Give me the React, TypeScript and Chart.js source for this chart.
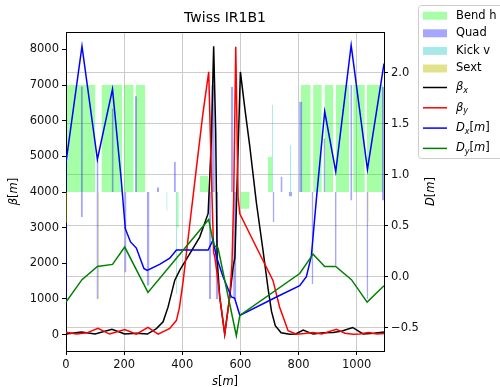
import React, { useEffect, useRef } from 'react';
import { Chart, registerables } from 'chart.js';

Chart.register(...registerables);
Chart.defaults.font.family = '"DejaVu Sans"';

// ---------- tick values ----------
const xTicks = [0, 200, 400, 600, 800, 1000];
const betaTicks = [0, 1000, 2000, 3000, 4000, 5000, 6000, 7000, 8000];
const dTicks = [-0.5, 0, 0.5, 1, 1.5, 2];

const titleText = 'Twiss IR1B1';

// ---------- optics (s [m], value) ----------
const betaXS = [0, 53, 100, 158, 202, 242, 280, 311, 334, 351, 374, 391, 426, 460, 489, 500, 508, 515, 520, 529, 546, 563, 575, 581, 600, 616, 632, 655, 678, 695, 707, 720, 740, 770, 790, 816, 850, 885, 919, 950, 986, 1022, 1060, 1094];
const betaXV = [20, 70, 15, 150, 15, 35, 15, 170, 360, 770, 1520, 1800, 2270, 2735, 3400, 5450, 8090, 5700, 2100, 1050, 15, 1050, 1900, 2150, 7370, 6300, 5300, 3700, 2350, 1300, 650, 250, 50, 10, 20, 130, 15, 50, 60, 100, 200, 20, 40, 70];

const betaYS = [0, 36, 72, 110, 150, 202, 242, 282, 317, 357, 380, 390, 403, 426, 449, 471, 491, 500, 508, 512, 520, 529, 546, 563, 571, 577, 584, 592, 598, 655, 712, 735, 764, 793, 820, 850, 880, 930, 960, 988, 1010, 1040, 1070, 1094];
const betaYV = [65, 15, 50, 175, 15, 145, 10, 200, 10, 175, 400, 750, 1500, 3110, 4700, 6200, 7375, 4520, 2300, 2170, 1700, 1050, 15, 1050, 1990, 3860, 8075, 3860, 3390, 2450, 1520, 770, 110, 10, 30, 60, 20, 150, 40, 10, 20, 60, 20, 30];

const dxS = [0, 55, 108, 160, 190, 204, 222, 242, 268, 279, 322, 357, 380, 489, 506, 517, 540, 569, 580, 598, 724, 804, 827, 844, 862, 890, 928, 981, 1037, 1094];
const dxV = [1.12, 2.26, 1.15, 1.84, 0.95, 0.47, 0.34, 0.28, 0.08, 0.06, 0.12, 0.18, 0.26, 0.26, 0.36, 0.2, 0.0, -0.2, -0.21, -0.38, -0.2, -0.09, 0.0, 0.2, 0.78, 1.62, 1.03, 2.27, 1.05, 2.09];

const dyS = [0, 55, 108, 160, 202, 282, 491, 508, 523, 586, 598, 804, 850, 890, 928, 982, 1036, 1094];
const dyV = [-0.25, -0.03, 0.10, 0.12, 0.29, -0.155, 0.56, 0.31, 0.28, -0.58, -0.38, 0.03, 0.22, 0.10, 0.10, -0.03, -0.25, -0.09];

// ---------- lattice elements (start s, end s, low, high) ----------
const bendS0 = [3, 122, 200, 240, 381, 461, 600, 695, 808, 850, 890, 928, 988, 1035];
const bendS1 = [101, 193, 233, 273, 388, 489, 632, 709, 842, 880, 920, 975, 1028, 1091];
const bendLo = [4000, 4000, 4000, 4000, 3000, 4000, 3530, 4000, 4000, 4000, 4000, 4000, 4000, 4000];
const bendHi = [7000, 7000, 7000, 7000, 4000, 4450, 4000, 4985, 7000, 7000, 7000, 7000, 7000, 7000];

const quadS0 = [0, 0, 51, 105, 157, 201, 237, 278, 313, 371, 492, 500, 515, 567, 575, 711, 738, 767, 802, 845, 886, 925, 978, 1034, 1087];
const quadS1 = [4, 4, 58, 112, 164, 208, 244, 287, 320, 378, 499, 512, 523, 575, 586, 717, 745, 778, 813, 851, 892, 931, 985, 1040, 1094];
const quadLo = [870, 4000, 3300, 1000, 4000, 1750, 4000, 1380, 4000, 4000, 1000, 4000, 1000, 4000, 1000, 3160, 4000, 3880, 4000, 1420, 4000, 1940, 3770, 1000, 3770];
const quadHi = [3130, 4900, 6960, 4900, 6340, 4000, 6690, 4000, 4130, 4840, 4000, 7000, 4000, 6950, 4000, 4000, 4430, 4000, 6530, 4000, 5500, 4000, 7000, 4000, 6950];

const kickS0 = [345, 378, 708, 770];
const kickS1 = [349, 382, 712, 774];
const kickLo = [3490, 1140, 4000, 4000];
const kickHi = [4000, 4000, 6440, 5310];

const sextS0 = [0, 109, 1037];
const sextS1 = [4, 113, 1041];
const sextLo = [3130, 1000, 3157];
const sextHi = [4000, 4000, 4000];

// ---------- styles ----------
const BEND_C = 'rgba(0,255,0,0.35)';
const QUAD_C = 'rgba(0,0,255,0.35)';
const KICK_C = 'rgba(0,191,191,0.35)';
const SEXT_C = 'rgba(191,191,0,0.45)';
const BX_C = '#000000';
const BY_C = '#ff0000';
const DX_C = '#0000ff';
const DY_C = '#008000';
const FONT = '"DejaVu Sans"';

type Seg = { t: string; it?: boolean; sub?: boolean };

const xLabel: Seg[] = [{ t: 's', it: true }, { t: '[' }, { t: 'm', it: true }, { t: ']' }];
const yLabel: Seg[] = [{ t: 'β', it: true }, { t: '[' }, { t: 'm', it: true }, { t: ']' }];
const y2Label: Seg[] = [{ t: 'D', it: true }, { t: '[' }, { t: 'm', it: true }, { t: ']' }];

const patchLegend = [
  { label: 'Bend h', color: BEND_C },
  { label: 'Quad', color: QUAD_C },
  { label: 'Kick v', color: KICK_C },
  { label: 'Sext', color: SEXT_C },
];
const lineLegend: { segs: Seg[]; color: string }[] = [
  { segs: [{ t: 'β', it: true }, { t: 'x', it: true, sub: true }], color: BX_C },
  { segs: [{ t: 'β', it: true }, { t: 'y', it: true, sub: true }], color: BY_C },
  { segs: [{ t: 'D', it: true }, { t: 'x', it: true, sub: true }, { t: '[' }, { t: 'm', it: true }, { t: ']' }], color: DX_C },
  { segs: [{ t: 'D', it: true }, { t: 'y', it: true, sub: true }, { t: '[' }, { t: 'm', it: true }, { t: ']' }], color: DY_C },
];

function drawRich(ctx: CanvasRenderingContext2D, segs: Seg[], x: number, y: number, size: number, center: boolean) {
  const fontFor = (s: Seg) => `${s.it ? 'italic ' : ''}${s.sub ? Math.round(size * 0.72) : size}px ${FONT}`;
  let total = 0;
  for (const s of segs) {
    ctx.font = fontFor(s);
    total += ctx.measureText(s.t).width;
  }
  let cx = center ? x - total / 2 : x;
  ctx.textAlign = 'left';
  ctx.textBaseline = 'middle';
  for (const s of segs) {
    ctx.font = fontFor(s);
    ctx.fillText(s.t, cx, s.sub ? y + size * 0.3 : y);
    cx += ctx.measureText(s.t).width;
  }
}

const zip = (xs: number[], ys: number[]) => xs.map((x, i) => ({ x, y: ys[i] }));

function lineSet(label: string, xs: number[], ys: number[], color: string, axis: string) {
  return {
    label,
    data: zip(xs, ys),
    yAxisID: axis,
    borderColor: color,
    backgroundColor: color,
    borderWidth: 1.5,
    pointRadius: 0,
    tension: 0,
    fill: false,
  };
}

function rectSets(label: string, s0: number[], s1: number[], lo: number[], hi: number[], color: string) {
  return s0.map((a, i) => ({
    label,
    data: [
      { x: a, y: hi[i] },
      { x: s1[i], y: hi[i] },
    ],
    yAxisID: 'y',
    borderColor: 'rgba(0,0,0,0)',
    backgroundColor: color,
    borderWidth: 1,
    pointRadius: 0,
    tension: 0,
    fill: { value: lo[i] },
  }));
}

const decorPlugin = {
  id: 'decor',
  afterDraw(chart: any) {
    const ctx: CanvasRenderingContext2D = chart.ctx;
    const ca = chart.chartArea;
    ctx.save();
    // top spine
    ctx.strokeStyle = '#000';
    ctx.lineWidth = 1;
    ctx.beginPath();
    ctx.moveTo(ca.left, Math.round(ca.top) + 0.5);
    ctx.lineTo(ca.right + 1, Math.round(ca.top) + 0.5);
    ctx.stroke();

    ctx.fillStyle = '#000';
    // title
    ctx.font = `14px ${FONT}`;
    ctx.textAlign = 'center';
    ctx.textBaseline = 'middle';
    ctx.fillText(titleText, (ca.left + ca.right) / 2, ca.top - 14);

    // axis labels
    drawRich(ctx, xLabel, (ca.left + ca.right) / 2, ca.bottom + 31, 11.5, true);
    const midY = (ca.top + ca.bottom) / 2;
    ctx.save();
    ctx.translate(ca.left - 52, midY);
    ctx.rotate(-Math.PI / 2);
    drawRich(ctx, yLabel, 0, 0, 11.5, true);
    ctx.restore();
    ctx.save();
    ctx.translate(ca.right + 47, midY);
    ctx.rotate(-Math.PI / 2);
    drawRich(ctx, y2Label, 0, 0, 11.5, true);
    ctx.restore();

    // legend
    const lx = 418.5;
    const ly = 5.5;
    const lw = 110;
    const lh = 153;
    const r = 3;
    ctx.beginPath();
    ctx.moveTo(lx + r, ly);
    ctx.lineTo(lx + lw, ly);
    ctx.lineTo(lx + lw, ly + lh);
    ctx.lineTo(lx + r, ly + lh);
    ctx.arcTo(lx, ly + lh, lx, ly + lh - r, r);
    ctx.lineTo(lx, ly + r);
    ctx.arcTo(lx, ly, lx + r, ly, r);
    ctx.closePath();
    ctx.fillStyle = 'rgba(255,255,255,0.8)';
    ctx.fill();
    ctx.strokeStyle = '#cccccc';
    ctx.stroke();

    const hx = 423;
    const hw = 24;
    const tx = 456;
    patchLegend.forEach((p, i) => {
      const y = 15.7 + i * 17.6;
      ctx.fillStyle = p.color;
      ctx.fillRect(hx, y - 4, hw, 8);
      ctx.fillStyle = '#000';
      ctx.font = `11.5px ${FONT}`;
      ctx.textAlign = 'left';
      ctx.textBaseline = 'middle';
      ctx.fillText(p.label, tx, y);
    });
    lineLegend.forEach((l, i) => {
      const y = 87.5 + i * 20.3;
      ctx.strokeStyle = l.color;
      ctx.lineWidth = 1.5;
      ctx.beginPath();
      ctx.moveTo(hx, y);
      ctx.lineTo(hx + hw, y);
      ctx.stroke();
      ctx.fillStyle = '#000';
      drawRich(ctx, l.segs, tx, y, 11.5, false);
    });
    ctx.restore();
  },
};

const tickFont = { size: 11.5, family: FONT };

export default function App() {
  const ref = useRef<HTMLCanvasElement>(null);
  useEffect(() => {
    const canvas = ref.current;
    if (!canvas) return;
    const datasets: any[] = [
      lineSet('Dy', dyS, dyV, DY_C, 'y2'),
      lineSet('Dx', dxS, dxV, DX_C, 'y2'),
      lineSet('betay', betaYS, betaYV, BY_C, 'y'),
      lineSet('betax', betaXS, betaXV, BX_C, 'y'),
      ...rectSets('Sext', sextS0, sextS1, sextLo, sextHi, SEXT_C),
      ...rectSets('Kick v', kickS0, kickS1, kickLo, kickHi, KICK_C),
      ...rectSets('Quad', quadS0, quadS1, quadLo, quadHi, QUAD_C),
      ...rectSets('Bend h', bendS0, bendS1, bendLo, bendHi, BEND_C),
    ];
    const chart = new Chart(canvas, {
      type: 'line',
      data: { datasets },
      options: {
        animation: false,
        responsive: false,
        devicePixelRatio: 1,
        layout: { padding: { top: 32, right: 60, bottom: 0, left: 0 } },
        plugins: {
          legend: { display: false },
          tooltip: { enabled: false },
          title: { display: false },
        },
        scales: {
          x: {
            type: 'linear',
            min: 0,
            max: 1094,
            afterBuildTicks: (s: any) => {
              s.ticks = xTicks.map((v) => ({ value: v }));
            },
            afterFit: (s: any) => {
              s.height = 36;
            },
            grid: { color: '#cccccc', lineWidth: 1, tickLength: 4, tickColor: '#000', drawTicks: true },
            border: { color: '#000', width: 1 },
            ticks: { color: '#111', font: tickFont, padding: 3, maxRotation: 0, autoSkip: false, callback: (v: any) => String(v) },
          },
          y: {
            type: 'linear',
            position: 'left',
            min: -460,
            max: 8490,
            afterBuildTicks: (s: any) => {
              s.ticks = betaTicks.map((v) => ({ value: v }));
            },
            afterFit: (s: any) => {
              s.width = 66;
            },
            grid: { drawOnChartArea: false, tickLength: 4, tickColor: '#000', drawTicks: true },
            border: { color: '#000', width: 1 },
            ticks: { color: '#111', font: tickFont, padding: 3, autoSkip: false, callback: (v: any) => String(v) },
          },
          y2: {
            type: 'linear',
            position: 'right',
            min: -0.73,
            max: 2.4,
            afterBuildTicks: (s: any) => {
              s.ticks = dTicks.map((v) => ({ value: v }));
            },
            afterFit: (s: any) => {
              s.width = 56;
            },
            grid: { color: '#cccccc', lineWidth: 1, tickLength: 4, tickColor: '#000', drawTicks: true },
            border: { color: '#000', width: 1 },
            ticks: {
              color: '#111',
              font: tickFont,
              padding: 3,
              autoSkip: false,
              callback: (v: any) => Number(v).toFixed(1).replace('-', '\u2212'),
            },
          },
        },
      } as any,
      plugins: [decorPlugin],
    });
    return () => chart.destroy();
  }, []);
  return (
    <div style={{ position: 'fixed', left: 0, top: 0, width: 500, height: 387, background: '#fff' }}>
      <canvas ref={ref} width={500} height={387} style={{ display: 'block', width: 500, height: 387 }} />
    </div>
  );
}
